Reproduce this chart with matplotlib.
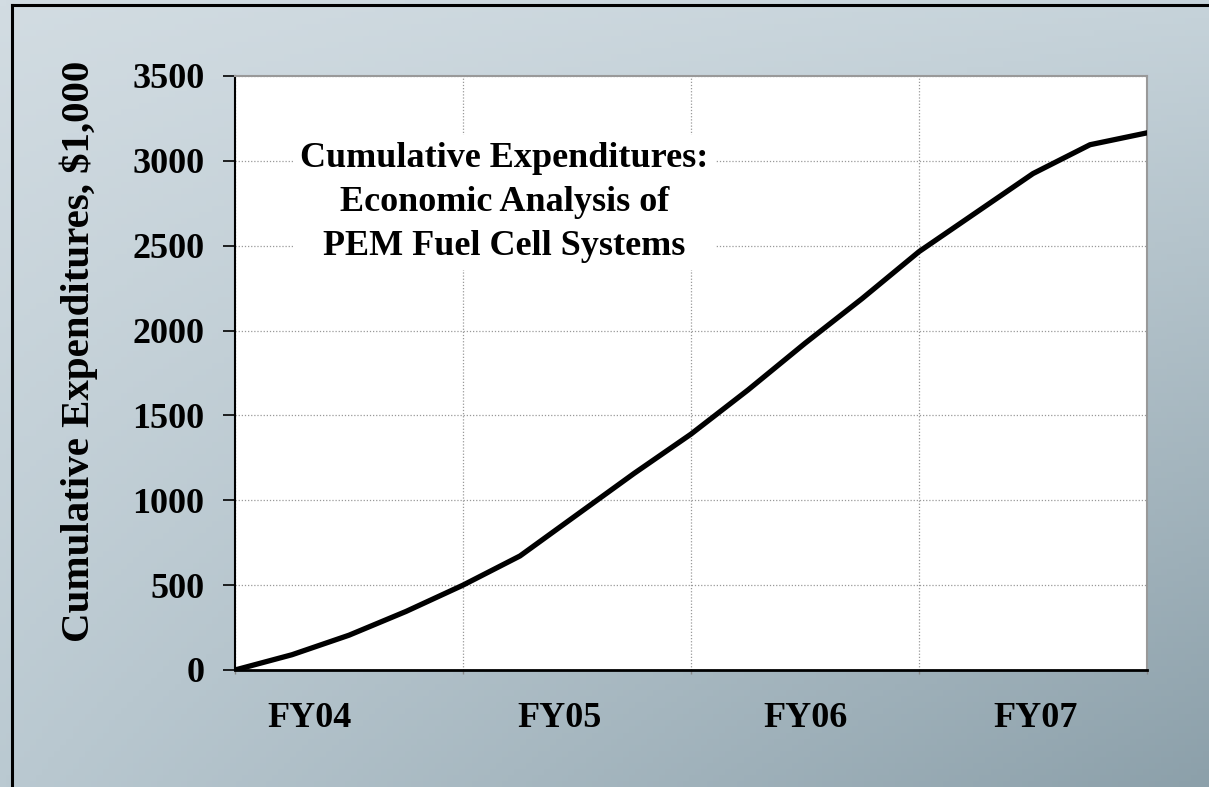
import numpy as np
import matplotlib.pyplot as plt
from matplotlib.lines import Line2D

plt.rcParams['font.family'] = ['Liberation Serif', 'DejaVu Serif']
plt.rcParams['font.weight'] = 'bold'

# quarters since start of FY04 (4 quarters per fiscal year)
quarters = [0, 1, 2, 3, 4, 5, 6, 7, 8, 9, 10, 11, 12, 13, 14, 15, 16]
cumulative = [0, 90, 205, 345, 500, 672, 915, 1158, 1390, 1650, 1925, 2188, 2465,
              2695, 2925, 3095, 3165]
year_labels = ['FY04', 'FY05', 'FY06', 'FY07']
yticks = [0, 500, 1000, 1500, 2000, 2500, 3000, 3500]

fig = plt.figure(figsize=(12.09, 7.87), dpi=100)

# slide-like background gradient
bg = fig.add_axes([0, 0, 1, 1], zorder=-10)
tl = np.array([210, 220, 226]) / 255
tr = np.array([198, 211, 218]) / 255
bl = np.array([186, 201, 209]) / 255
br = np.array([140, 160, 170]) / 255
u = np.linspace(0, 1, 200)[None, :, None]
v = np.linspace(0, 1, 130)[:, None, None]
grad = (1 - v) * ((1 - u) * tl + u * tr) + v * ((1 - u) * bl + u * br)
bg.imshow(grad, aspect='auto', extent=[0, 1, 0, 1], origin='upper')
bg.set_axis_off()
# frame lines (top and left) of the cropped slide
fig.add_artist(Line2D([12 / 1209, 1], [1 - 5 / 787, 1 - 5 / 787], color='black', lw=2.2))
fig.add_artist(Line2D([12 / 1209, 12 / 1209], [0, 1 - 5 / 787], color='black', lw=2.2))

ax = fig.add_axes([235 / 1209, 1 - 670 / 787, (1147 - 235) / 1209, (670 - 76) / 787])
ax.set_facecolor('white')
ax.plot(quarters, cumulative, color='black', lw=3.8, solid_joinstyle='round', zorder=3)

ax.set_xlim(0, 16)
ax.set_ylim(0, 3500)
ax.set_yticks(yticks)
ax.set_xticks([0, 4, 8, 12, 16])
ax.set_xticklabels([])
ax.set_xticks([1.3, 5.7, 10.0, 14.05], minor=True)
ax.set_xticklabels(year_labels, minor=True)
ax.tick_params(axis='x', which='major', length=3, width=1, color='#888888')
ax.tick_params(axis='x', which='minor', length=0, pad=23, labelsize=26)
ax.tick_params(axis='y', length=9, width=1.2, pad=13, labelsize=26)

ax.grid(True, which='major', color='#999999', linestyle=(0, (1, 1.5)), lw=0.9)
ax.set_axisbelow(True)

ax.spines['left'].set_color('black')
ax.spines['left'].set_linewidth(1.5)
ax.spines['bottom'].set_color('black')
ax.spines['bottom'].set_linewidth(2)
ax.spines['top'].set_color('#999999')
ax.spines['top'].set_linewidth(1.5)
ax.spines['right'].set_color('#999999')
ax.spines['right'].set_linewidth(1.5)

ax.set_ylabel('Cumulative Expenditures, $1,000', fontsize=29.5, fontweight='bold')
ax.yaxis.set_label_coords(-0.150, 0.537)

ax.text(0.2956, 0.787, 'Cumulative Expenditures:\nEconomic Analysis of\nPEM Fuel Cell Systems',
        transform=ax.transAxes, ha='center', va='center', fontsize=26,
        linespacing=1.45, zorder=4,
        bbox=dict(facecolor='white', edgecolor='none', pad=5))

fig.savefig('out.png', dpi=100)
